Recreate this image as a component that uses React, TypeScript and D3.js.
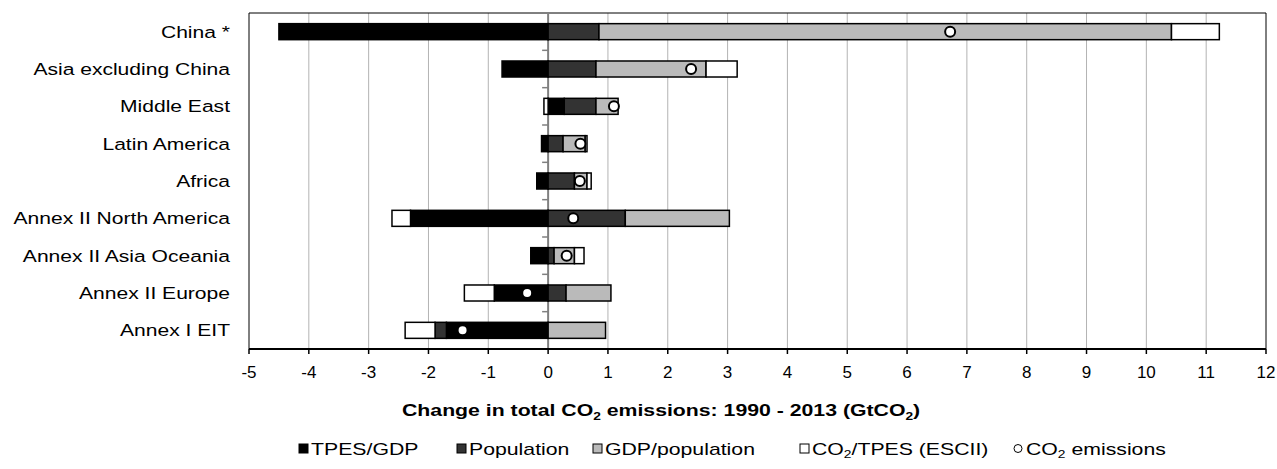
import React from "react";
import * as d3 from "d3";

// Regions, top to bottom
const regions = [
  "China *",
  "Asia excluding China",
  "Middle East",
  "Latin America",
  "Africa",
  "Annex II North America",
  "Annex II Asia Oceania",
  "Annex II Europe",
  "Annex I EIT",
];

// Decomposition of the change in CO2 emissions (GtCO2), 1990 - 2013
const tpesGdp = [-4.5, -0.77, 0.27, -0.11, -0.19, -2.3, -0.29, -0.9, -1.7];
const population = [0.85, 0.8, 0.53, 0.25, 0.44, 1.29, 0.1, 0.3, -0.19];
const gdpPop = [9.57, 1.84, 0.37, 0.37, 0.21, 1.74, 0.34, 0.75, 0.96];
const co2Tpes = [0.8, 0.52, -0.07, 0.03, 0.07, -0.31, 0.16, -0.5, -0.5];
const co2Total = [6.72, 2.39, 1.1, 0.54, 0.53, 0.42, 0.31, -0.35, -1.43];

const xTicks = d3.range(-5, 13);

const seriesNames = ["TPES/GDP", "Population", "GDP/population", "CO2/TPES (ESCII)"];
const seriesValues = [tpesGdp, population, gdpPop, co2Tpes];
const seriesFill = ["#000000", "#333333", "#bababa", "#ffffff"];

const W = 1277;
const H = 469;
const left = 249;
const right = 1266;
const top = 13;
const bottom = 349;
const FONT = "'Liberation Sans', Arial, Helvetica, sans-serif";
const SX_LABEL = 1.24;
const SX_TITLE = 1.25;
const SX_LEGEND = 1.25;

export default function App() {
  const x = d3.scaleLinear().domain([-5, 12]).range([left, right]);
  const y = d3
    .scaleBand<string>()
    .domain(regions)
    .range([top, bottom])
    .paddingInner(0.571)
    .paddingOuter(0.2855);
  const step = y.step();

  // stacked segments: positives and negatives stack separately, in series order
  const segments: { key: string; x0: number; x1: number; y: number; fill: string }[] = [];
  regions.forEach((r, i) => {
    let pos = 0;
    let neg = 0;
    seriesValues.forEach((vals, s) => {
      const v = vals[i];
      let a: number, b: number;
      if (v >= 0) {
        a = pos;
        b = pos + v;
        pos = b;
      } else {
        a = neg + v;
        b = neg;
        neg = a;
      }
      segments.push({ key: `${r}-${s}`, x0: a, x1: b, y: y(r)!, fill: seriesFill[s] });
    });
  });

  const boundaries = d3.range(0, regions.length + 1).map((k) => top + k * step);

  const legendItems = [
    { x: 299, label: [seriesNames[0]], fill: seriesFill[0] },
    { x: 457, label: [seriesNames[1]], fill: seriesFill[1] },
    { x: 593, label: [seriesNames[2]], fill: seriesFill[2] },
    { x: 800, label: ["CO", "2", "/TPES (ESCII)"], fill: seriesFill[3] },
  ];
  const legendY = 455;

  return (
    <svg width={W} height={H} style={{ position: "absolute", left: 0, top: 0, background: "#fff" }} fontFamily={FONT}>
      {/* vertical gridlines */}
      {xTicks
        .filter((t) => t !== 0 && t !== -5 && t !== 12)
        .map((t) => (
          <line key={`g${t}`} x1={x(t)} x2={x(t)} y1={top} y2={bottom} stroke="#b3b3b3" strokeWidth={1} />
        ))}
      {/* plot frame */}
      <line x1={left} x2={right} y1={top} y2={top} stroke="#000" strokeWidth={1} />
      <line x1={left} x2={left} y1={top} y2={bottom} stroke="#000" strokeWidth={1} />
      <line x1={right} x2={right} y1={top} y2={bottom} stroke="#000" strokeWidth={1} />

      {/* zero axis with category ticks */}
      <line x1={x(0)} x2={x(0)} y1={top} y2={bottom} stroke="#808080" strokeWidth={2} />
      {boundaries.map((b, k) => (
        <line key={`ct${k}`} x1={x(0) - 6} x2={x(0)} y1={b} y2={b} stroke="#808080" strokeWidth={1.5} />
      ))}

      {/* stacked bars */}
      {segments.map((s) =>
        s.x1 - s.x0 > 0 ? (
          <rect
            key={s.key}
            x={x(s.x0)}
            y={s.y}
            width={x(s.x1) - x(s.x0)}
            height={y.bandwidth()}
            fill={s.fill}
            stroke="#000"
            strokeWidth={1.5}
          />
        ) : null
      )}

      {/* total change markers */}
      {regions.map((r, i) => (
        <circle
          key={`c${r}`}
          cx={x(co2Total[i])}
          cy={y(r)! + y.bandwidth() / 2}
          r={5}
          fill="#fff"
          stroke="#000"
          strokeWidth={2}
        />
      ))}

      {/* x axis */}
      <line x1={left} x2={right} y1={bottom} y2={bottom} stroke="#000" strokeWidth={2} />
      {xTicks.map((t) => (
        <g key={`t${t}`}>
          <line x1={x(t)} x2={x(t)} y1={bottom} y2={bottom + 5} stroke="#000" strokeWidth={1.5} />
          <text x={x(t)} y={bottom + 29} textAnchor="middle" fontSize={17} fill="#000">
            {t}
          </text>
        </g>
      ))}

      {/* category labels */}
      {regions.map((r) => (
        <text
          key={`l${r}`}
          transform={`translate(230,${y(r)! + y.bandwidth() / 2 + 6}) scale(${SX_LABEL},1)`}
          textAnchor="end"
          fontSize={17}
          fill="#000"
        >
          {r}
        </text>
      ))}

      {/* axis title */}
      <text transform={`translate(402,416) scale(${SX_TITLE},1)`} fontSize={17} fontWeight="bold" fill="#000">
        Change in total CO
        <tspan fontSize={11} dy={4}>
          2
        </tspan>
        <tspan dy={-4}> emissions: 1990 - 2013 (GtCO</tspan>
        <tspan fontSize={11} dy={4}>
          2
        </tspan>
        <tspan dy={-4}>)</tspan>
      </text>

      {/* legend */}
      {legendItems.map((it, k) => (
        <g key={`lg${k}`}>
          <rect x={it.x} y={legendY - 11} width={9} height={9} fill={it.fill} stroke="#000" strokeWidth={1} />
          <text transform={`translate(${it.x + 12},${legendY}) scale(${SX_LEGEND},1)`} fontSize={17} fill="#000">
            {it.label.length === 1 ? (
              it.label[0]
            ) : (
              <>
                {it.label[0]}
                <tspan fontSize={11} dy={3}>
                  {it.label[1]}
                </tspan>
                <tspan dy={-3}>{it.label[2]}</tspan>
              </>
            )}
          </text>
        </g>
      ))}
      <g>
        <circle cx={1018} cy={legendY - 6.5} r={4} fill="#fff" stroke="#000" strokeWidth={1} />
        <text transform={`translate(1026,${legendY}) scale(${SX_LEGEND},1)`} fontSize={17} fill="#000">
          CO
          <tspan fontSize={11} dy={3}>
            2
          </tspan>
          <tspan dy={-3}> emissions</tspan>
        </text>
      </g>
    </svg>
  );
}
